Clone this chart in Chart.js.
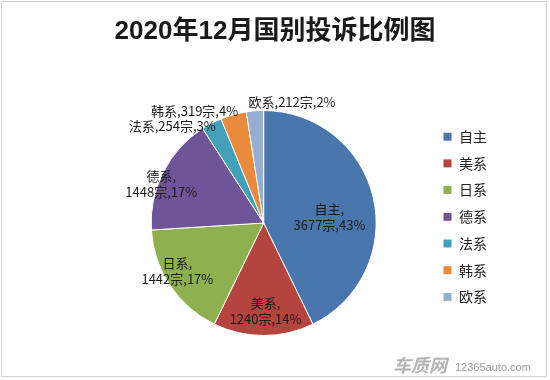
<!DOCTYPE html>
<html>
<head>
<meta charset="utf-8">
<script src="https://cdn.jsdelivr.net/npm/chart.js@4/dist/chart.umd.min.js"></script>
<style>
  html, body { margin: 0; padding: 0; background: #fff; }
  #wrap { width: 550px; height: 380px; position: relative; }
</style>
</head>
<body>
<div id="wrap"><canvas id="graph" width="550" height="380"></canvas></div>
<script>
// chart data
var title = "2020年12月国别投诉比例图";
var categories = ["自主", "美系", "日系", "德系", "法系", "韩系", "欧系"];
var complaints = [3677, 1240, 1442, 1448, 254, 319, 212];
var colors = ["#4A76AE", "#B5443F", "#8FB04F", "#705499", "#40A1B9", "#E98B3B", "#97ADD0"];

// label placement: inside (two lines) or outside (one line), radial factor, pixel nudge
var labelInside = [true, true, true, true, false, false, false];
var labelRadius = [0.6, 0.78, 0.88, 0.97, 1.18, 1.16, 1.1];
var labelNudge = [[0, 9], [2, 0], [-4, -7], [-5, 10], [-30, 21], [-34, 14], [38, 2]];

var cjk = "'Noto Sans CJK SC', 'Microsoft YaHei', sans-serif";

var sliceLabels = {
    id: 'sliceLabels',
    afterDatasetsDraw: function (chart) {
        var ctx = chart.ctx;
        var meta = chart.getDatasetMeta(0);
        var data = chart.data.datasets[0].data;
        var total = data.reduce(function (a, b) { return a + b; }, 0);
        ctx.save();
        ctx.font = "13px " + cjk;
        ctx.fillStyle = "#1a1a1a";
        ctx.textAlign = "center";
        ctx.textBaseline = "middle";
        meta.data.forEach(function (arc, i) {
            var p = arc.getProps(['x', 'y', 'startAngle', 'endAngle', 'outerRadius'], true);
            var mid = (p.startAngle + p.endAngle) / 2;
            var r = p.outerRadius * labelRadius[i];
            var x = p.x + Math.cos(mid) * r + labelNudge[i][0];
            var y = p.y + Math.sin(mid) * r + labelNudge[i][1];
            var pct = Math.round(data[i] / total * 100) + "%";
            if (labelInside[i]) {
                ctx.fillText(categories[i] + ",", x, y - 8);
                ctx.fillText(data[i] + "宗," + pct, x, y + 8);
            } else {
                ctx.fillText(categories[i] + "," + data[i] + "宗," + pct, x, y);
            }
        });
        ctx.restore();
    },
    afterDraw: function (chart) {
        var ctx = chart.ctx;
        ctx.save();
        // title, centred on the whole picture (not on the plot area)
        ctx.fillStyle = "#1a1a1a";
        ctx.textAlign = "center";
        ctx.textBaseline = "middle";
        ctx.font = "bold 26px 'Liberation Sans', Arial, " + cjk;
        ctx.fillText(title, chart.width / 2, 32);
        // frame of the screenshot
        ctx.strokeStyle = "#cfcfcf";
        ctx.lineWidth = 1;
        ctx.strokeRect(1.5, 1.5, 545, 375);
        // watermark
        ctx.textAlign = "left";
        ctx.textBaseline = "alphabetic";
        ctx.fillStyle = "#b4b4b4";
        ctx.font = "bold italic 18px " + cjk;
        ctx.fillText("车质网", 393, 372);
        ctx.fillStyle = "#9a9a9a";
        ctx.font = "11px 'Liberation Sans', Arial, sans-serif";
        ctx.fillText("12365auto.com", 455, 371);
        ctx.restore();
    }
};

var canvas = document.querySelector('#graph');
var context = canvas.getContext('2d');

var myPie = new Chart(context, {
    type: 'pie',
    data: {
        labels: categories,
        datasets: [{
            data: complaints,
            backgroundColor: colors,
            borderColor: "#ffffff",
            borderWidth: 1,
            hoverOffset: 0
        }]
    },
    options: {
        responsive: false,
        animation: false,
        layout: {
            padding: { left: 97, right: 53, top: 110, bottom: 44 }
        },
        plugins: {
            title: { display: false },
            legend: {
                position: 'right',
                align: 'start',
                fullSize: false,
                title: { display: true, text: '', font: { size: 7, lineHeight: 1 }, padding: 0 },
                labels: {
                    boxWidth: 9,
                    boxHeight: 9,
                    padding: 12.7,
                    color: "#222",
                    font: { size: 14, family: cjk }
                }
            },
            tooltip: { enabled: false }
        }
    },
    plugins: [sliceLabels]
});
</script>
</body>
</html>
